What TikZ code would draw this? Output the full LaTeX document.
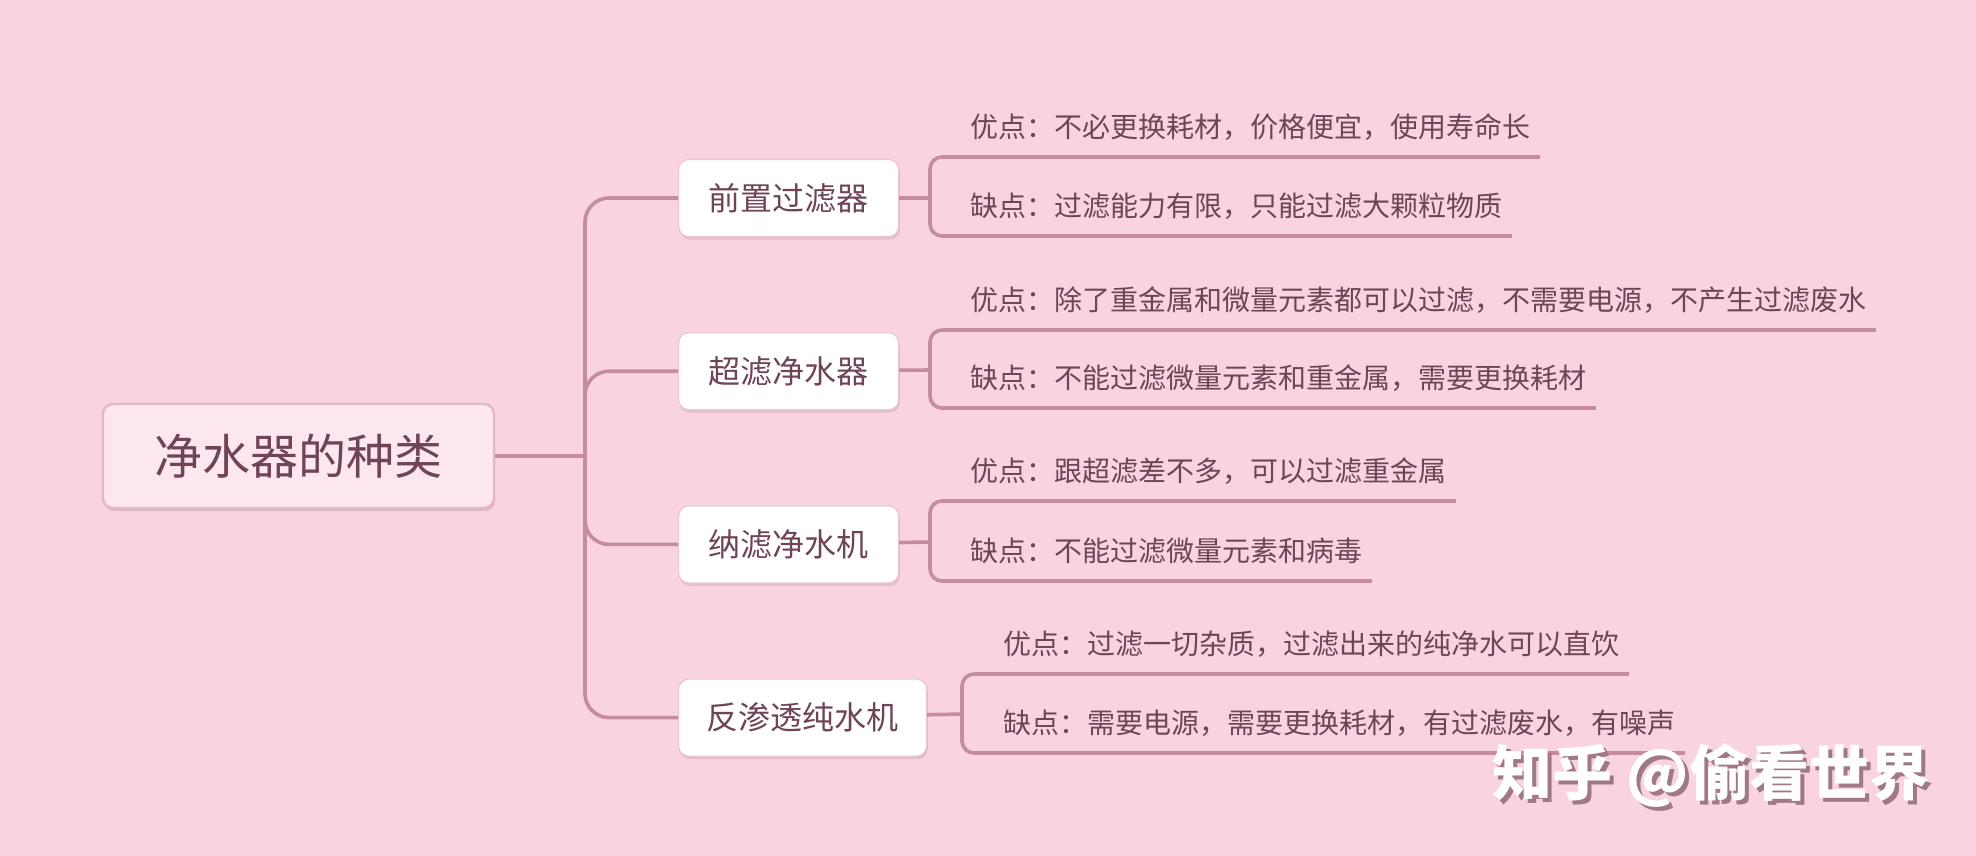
\documentclass[tikz,border=0pt]{standalone}
\usepackage{fontspec}
\setmainfont{Noto Sans CJK SC}
\usepackage{xcolor}
\usetikzlibrary{positioning,shadows}
\definecolor{bgpink}{HTML}{F9D4E0}
\definecolor{linkcol}{HTML}{C48C9E}
\definecolor{txtcol}{HTML}{6F4456}
\definecolor{rootfill}{HTML}{FCE7EF}
\definecolor{rootdraw}{HTML}{E2B8C5}
\definecolor{boxdraw}{HTML}{EBC6D2}
\definecolor{markshade}{HTML}{A07888}

\begin{document}
\begin{tikzpicture}[x=0.5pt, y=-0.5pt, text=txtcol,
  root/.style={draw=rootdraw, line width=1.2pt, fill=rootfill, rounded corners=5pt,
               minimum width=195.5pt, minimum height=52pt,
               font=\fontsize{24pt}{28pt}\selectfont,
               drop shadow={shadow xshift=0.6pt, shadow yshift=-1.5pt, opacity=0.3, fill=rootdraw!70!black}},
  kind/.style={draw=boxdraw, line width=0.6pt, fill=white, rounded corners=5pt,
               minimum width=110pt, minimum height=38.5pt, inner xsep=14pt,
               font=\fontsize{16pt}{19pt}\selectfont,
               drop shadow={shadow xshift=0.6pt, shadow yshift=-1.5pt, opacity=0.25, fill=rootdraw!70!black}},
  note/.style={anchor=south west, inner xsep=4.5pt, inner ysep=0pt, text height=10pt,
               text depth=9.5pt, font=\fontsize{14pt}{17pt}\selectfont},
  link/.style={draw=linkcol, line width=1.8pt},
  wmark/.style={font=\fontsize{30pt}{34pt}\selectfont\bfseries}]
\fill[bgpink] (0,0) rectangle (1976,856);

% root and the four kinds
\node[root] (root) at (298.5,456) {净水器的种类};
\node[kind, anchor=west] (pre) at (678,198) {前置过滤器};
\node[kind, below=47.5pt of pre] (uf) {超滤净水器};
\node[kind, below=47.5pt of uf] (nf) {纳滤净水机};
\node[kind, below=47.5pt of nf.south west, anchor=north west] (ro) {反渗透纯水机};

\coordinate (trunk) at (585,456);
\draw[link] (root) -- (trunk);
\draw[link, rounded corners=12pt] (trunk) |- (pre.west);
\draw[link, rounded corners=12pt] (trunk) |- (uf.west);
\draw[link, rounded corners=12pt] (trunk) |- (nf.west);
\draw[link, rounded corners=12pt] (trunk) |- (ro.west);

% pros and cons
\node[note] (pro1) at (961,157) {优点：不必更换耗材，价格便宜，使用寿命长};
\node[note] (con1) at (961,236) {缺点：过滤能力有限，只能过滤大颗粒物质};
\node[note] (pro2) at (961,330) {优点：除了重金属和微量元素都可以过滤，不需要电源，不产生过滤废水};
\node[note] (con2) at (961,408) {缺点：不能过滤微量元素和重金属，需要更换耗材};
\node[note] (pro3) at (961,501) {优点：跟超滤差不多，可以过滤重金属};
\node[note] (con3) at (961,581) {缺点：不能过滤微量元素和病毒};
\node[note] (pro4) at (994,674) {优点：过滤一切杂质，过滤出来的纯净水可以直饮};
\node[note] (con4) at (994,753) {缺点：需要电源，需要更换耗材，有过滤废水，有噪声};

\coordinate (k1) at (930,198);
\coordinate (k2) at (930,370);
\coordinate (k3) at (930,542);
\coordinate (k4) at (962,714);
\draw[link] (pre) -- (k1);
\draw[link] (uf) -- (k2);
\draw[link] (nf) -- (k3);
\draw[link] (ro) -- (k4);
\draw[link, rounded corners=6pt] (pro1.south east) -| (k1) |- (con1.south east);
\draw[link, rounded corners=6pt] (pro2.south east) -| (k2) |- (con2.south east);
\draw[link, rounded corners=6pt] (pro3.south east) -| (k3) |- (con3.south east);
\draw[link, rounded corners=6pt] (pro4.south east) -| (k4) |- (con4.south east);

% watermark
\node[wmark, text=markshade] (markshadow) at (1715,779) {知乎 @偷看世界};
\node[wmark, text=white] (watermark) at (1711,775) {知乎 @偷看世界};
\end{tikzpicture}
\end{document}
